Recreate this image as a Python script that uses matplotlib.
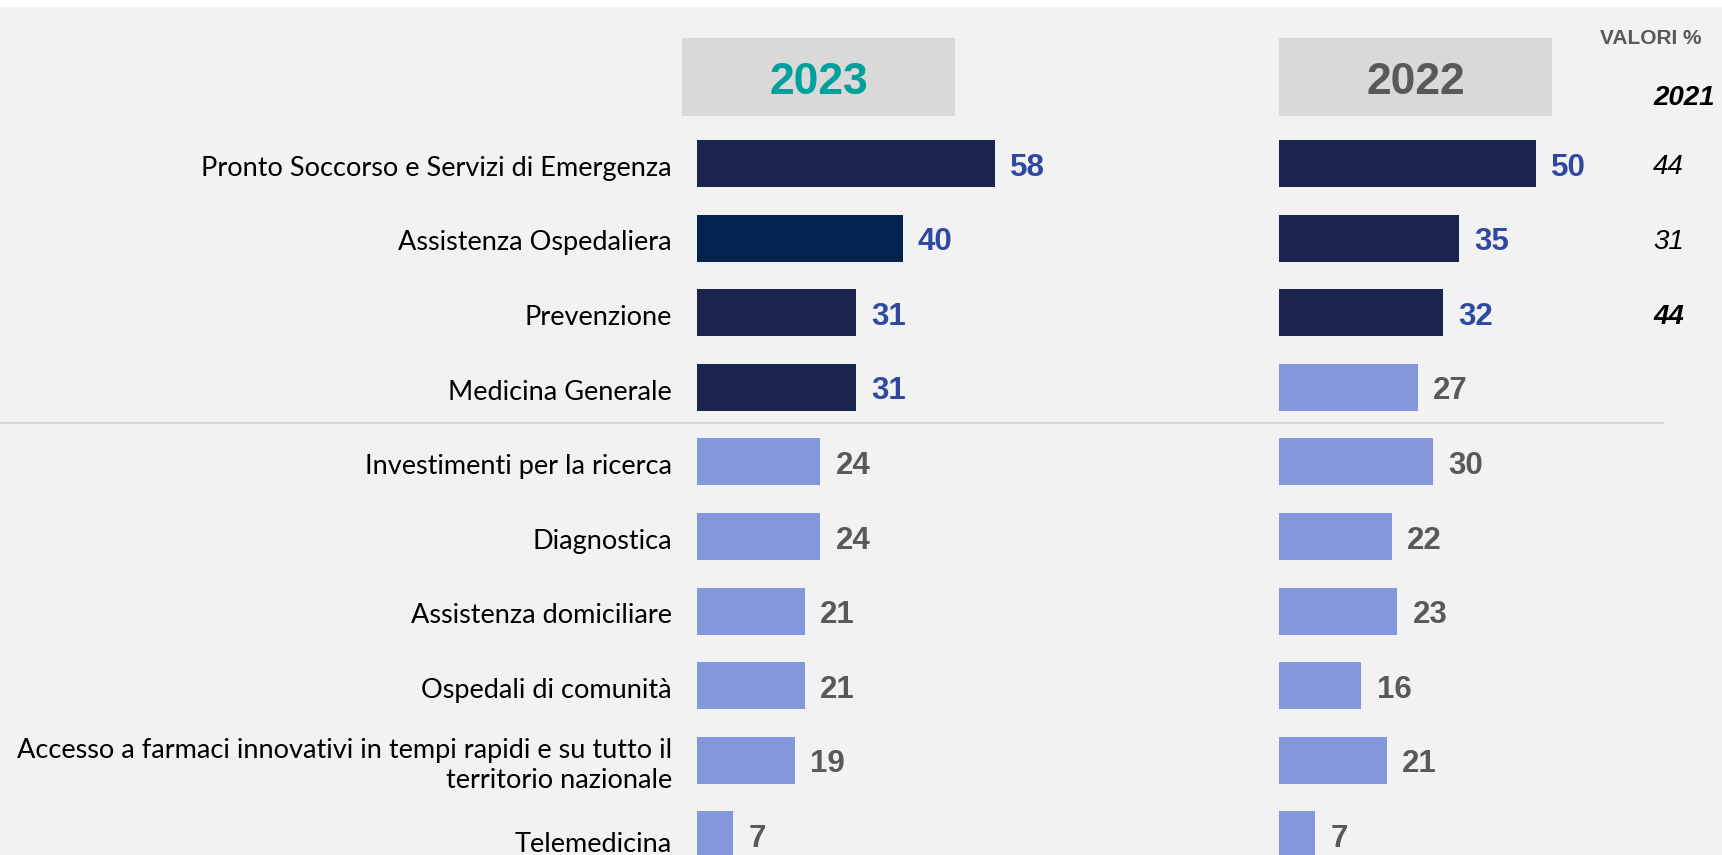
import matplotlib.pyplot as plt
from matplotlib.patches import Rectangle
from matplotlib.lines import Line2D
from matplotlib import font_manager

categories = ["Pronto Soccorso e Servizi di Emergenza", "Assistenza Ospedaliera", "Prevenzione",
              "Medicina Generale", "Investimenti per la ricerca", "Diagnostica",
              "Assistenza domiciliare", "Ospedali di comunità",
              "Accesso a farmaci innovativi in tempi rapidi e su tutto il\nterritorio nazionale",
              "Telemedicina"]
v2023 = [58, 40, 31, 31, 24, 24, 21, 21, 19, 7]
v2022 = [50, 35, 32, 27, 30, 22, 23, 16, 21, 7]
hi2023 = [1, 2, 1, 1, 0, 0, 0, 0, 0, 0]
hi2022 = [1, 1, 1, 0, 0, 0, 0, 0, 0, 0]
v2021 = [44, 31, 44]
bold2021 = [False, False, True]

W, H = 1722, 855
ppu = 5.14        # pixel per unit
row_h, y0 = 74.6, 163.5

bar_cols = {0: '#8497DA', 1: '#1A244D', 2: '#002350'}
lab_cols = {0: '#595959', 1: '#2F49A0', 2: '#2F49A0'}

def has_font(name):
    try:
        font_manager.findfont(name, fallback_to_default=False)
        return True
    except Exception:
        return False

narrow = ['Liberation Sans Narrow', 'Liberation Sans'] if has_font('Liberation Sans Narrow') else ['Liberation Sans']
arial = ['Liberation Sans', 'DejaVu Sans']
labfont = ['Lato', 'DejaVu Sans']

fig = plt.figure(figsize=(W / 100, H / 100), dpi=100)
fig.patch.set_facecolor('white')
fig.patches.append(Rectangle((0, 0), 1, 848 / H, transform=fig.transFigure,
                             facecolor='#F2F2F2', edgecolor='none', zorder=-10))

ylim = ((H - y0) / row_h, -y0 / row_h)

def make_ax(left_px, vals, hi):
    ax = fig.add_axes([left_px / W, 0, 70 * ppu / W, 1])
    ax.set_xlim(0, 70)
    ax.set_ylim(*ylim)
    ax.axis('off')
    ax.patch.set_alpha(0)
    ys = range(len(vals))
    ax.barh(ys, vals, height=0.63, color=[bar_cols[h] for h in hi], clip_on=False)
    for y, v, h in zip(ys, vals, hi):
        ax.annotate(str(v), (v, y), xytext=(11, -3), textcoords='offset points',
                    ha='left', va='center', fontsize=22.5, fontweight='bold',
                    color=lab_cols[h], family=arial)
    return ax

ax1 = make_ax(697, v2023, hi2023)
ax2 = make_ax(1279, v2022, hi2022)

for i, c in enumerate(categories):
    dy = -7 if c == "Telemedicina" else -3.5
    ax1.annotate(c, (0, i), xytext=(-18, dy), textcoords='offset points', ha='right',
                 va='center', fontsize=19.5, family=labfont, color='black', linespacing=1.25)

# header boxes
for left, txt, col in [(682, '2023', '#00A19C'), (1279, '2022', '#595959')]:
    fig.patches.append(Rectangle((left / W, 1 - 116 / H), 273 / W, 78 / H,
                                 transform=fig.transFigure, facecolor='#D9D9D9',
                                 edgecolor='none', zorder=-5))
    fig.text((left + 136.5) / W, 1 - 82 / H, txt, ha='center', va='center',
             fontsize=32, fontweight='bold', color=col, family=narrow)

# separator line
fig.add_artist(Line2D([0, 1663 / W], [1 - 423 / H] * 2, color='#D9D9D9', lw=1.5))

# 2021 column
fig.text(1702 / W, 1 - 38 / H, 'VALORI %', ha='right', va='center', fontsize=15,
         fontweight='bold', color='#595959', family=arial)
fig.text(1653 / W, 1 - 98 / H, '2021', ha='left', va='center', fontsize=20,
         fontweight='bold', style='italic', color='black', family=arial)
for i, (v, b) in enumerate(zip(v2021, bold2021)):
    fig.text(1653 / W, 1 - (y0 + 4 + i * row_h) / H, str(v), ha='left', va='center',
             fontsize=20, fontweight='bold' if b else 'normal', style='italic',
             color='black', family=arial)

fig.savefig('out.png', dpi=100, facecolor=fig.get_facecolor())
